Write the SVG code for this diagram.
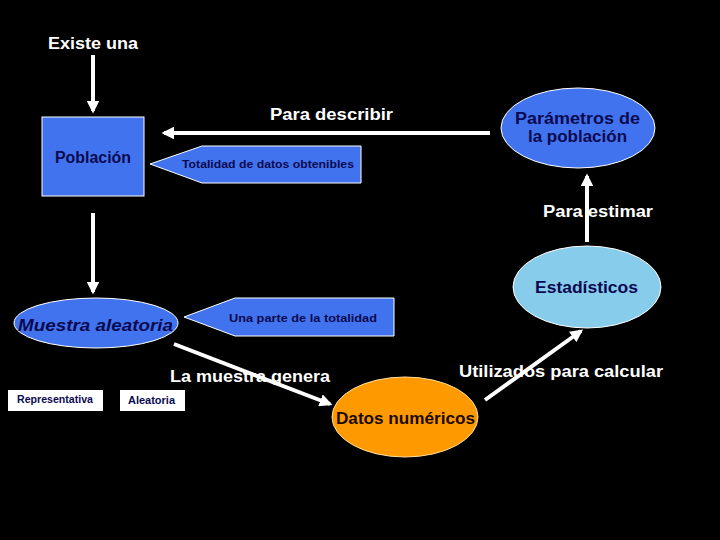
<svg xmlns="http://www.w3.org/2000/svg" width="720" height="540" viewBox="0 0 720 540">
<defs>
<style>
.lbl{font-family:"Liberation Sans","DejaVu Sans",sans-serif;fill:#ffffff;font-weight:bold;font-size:16px}
.nt{font-family:"Liberation Sans","DejaVu Sans",sans-serif;fill:#0a0a50;font-weight:bold}
.blue{fill:#4273ee;stroke:#ffffff;stroke-width:1}
.conn{stroke:#ffffff;stroke-width:4;fill:none}
</style>
<marker id="ah" viewBox="0 0 10 10" refX="8" refY="5" markerWidth="3.2" markerHeight="3.2" orient="auto" markerUnits="strokeWidth">
<path d="M0,0 L10,5 L0,10 Z" fill="#ffffff"/>
</marker>
</defs>
<rect x="0" y="0" width="720" height="540" fill="#000000"/>

<g id="connectors">
<line class="conn" x1="93" y1="55" x2="93" y2="111" marker-end="url(#ah)"/>
<line class="conn" x1="490" y1="133" x2="164" y2="133" marker-end="url(#ah)"/>
<line class="conn" x1="587" y1="242" x2="587" y2="176" marker-end="url(#ah)"/>
<line class="conn" x1="93" y1="213" x2="93" y2="292" marker-end="url(#ah)"/>
<line class="conn" x1="174" y1="344" x2="330" y2="404" marker-end="url(#ah)"/>
<line class="conn" x1="485" y1="400" x2="581" y2="331" marker-end="url(#ah)"/>
</g>

<g id="label-existe"><text class="lbl" x="48" y="49" textLength="90" lengthAdjust="spacingAndGlyphs">Existe una</text></g>
<g id="label-describir"><text class="lbl" x="270" y="120" textLength="123" lengthAdjust="spacingAndGlyphs">Para describir</text></g>
<g id="label-estimar"><text class="lbl" x="543" y="217" textLength="110" lengthAdjust="spacingAndGlyphs">Para estimar</text></g>
<g id="label-genera"><text class="lbl" x="170" y="382" textLength="160" lengthAdjust="spacingAndGlyphs">La muestra genera</text></g>
<g id="label-utilizados"><text class="lbl" x="459" y="377" textLength="204" lengthAdjust="spacingAndGlyphs">Utilizados para calcular</text></g>

<g id="poblacion">
<rect class="blue" x="42" y="117" width="102" height="79"/>
<text class="nt" x="55" y="163" font-size="16" textLength="76" lengthAdjust="spacingAndGlyphs">Población</text>
</g>

<g id="totalidad">
<polygon class="blue" points="150,164 202,146 361,146 361,183 202,183"/>
<text class="nt" x="182" y="168" font-size="11" textLength="172" lengthAdjust="spacingAndGlyphs">Totalidad de datos obtenibles</text>
</g>

<g id="parametros">
<ellipse class="blue" cx="578" cy="128" rx="77" ry="40"/>
<text class="nt" x="515" y="124" font-size="16" textLength="125" lengthAdjust="spacingAndGlyphs">Parámetros de</text>
<text class="nt" x="528" y="142" font-size="16" textLength="99" lengthAdjust="spacingAndGlyphs">la población</text>
</g>

<g id="estadisticos">
<ellipse cx="587" cy="287" rx="74" ry="41" fill="#88ccec" stroke="#ffffff" stroke-width="1"/>
<text class="nt" x="535" y="293" font-size="16" textLength="103" lengthAdjust="spacingAndGlyphs">Estadísticos</text>
</g>

<g id="muestra">
<ellipse class="blue" cx="96" cy="323" rx="82" ry="25"/>
<text class="nt" x="18" y="331" font-size="17" font-style="italic" textLength="155" lengthAdjust="spacingAndGlyphs">Muestra aleatoria</text>
</g>

<g id="unaparte">
<polygon class="blue" points="184,317 235,298 394,298 394,336 235,336"/>
<text class="nt" x="229" y="322" font-size="11" textLength="148" lengthAdjust="spacingAndGlyphs">Una parte de la totalidad</text>
</g>

<g id="datos">
<ellipse cx="405" cy="417" rx="73" ry="40" fill="#ff9900" stroke="#ffe0a0" stroke-width="1"/>
<text x="336" y="424" font-family="Liberation Sans, DejaVu Sans, sans-serif" font-weight="bold" font-size="16" fill="#1a0a00" textLength="139" lengthAdjust="spacingAndGlyphs">Datos numéricos</text>
</g>

<g id="representativa">
<rect x="8" y="390" width="95" height="21" fill="#ffffff"/>
<text class="nt" x="17" y="403" font-size="10" textLength="76" lengthAdjust="spacingAndGlyphs">Representativa</text>
</g>

<g id="aleatoria">
<rect x="120" y="390" width="65" height="21" fill="#ffffff"/>
<text class="nt" x="128" y="404" font-size="10" textLength="47" lengthAdjust="spacingAndGlyphs">Aleatoria</text>
</g>
</svg>
